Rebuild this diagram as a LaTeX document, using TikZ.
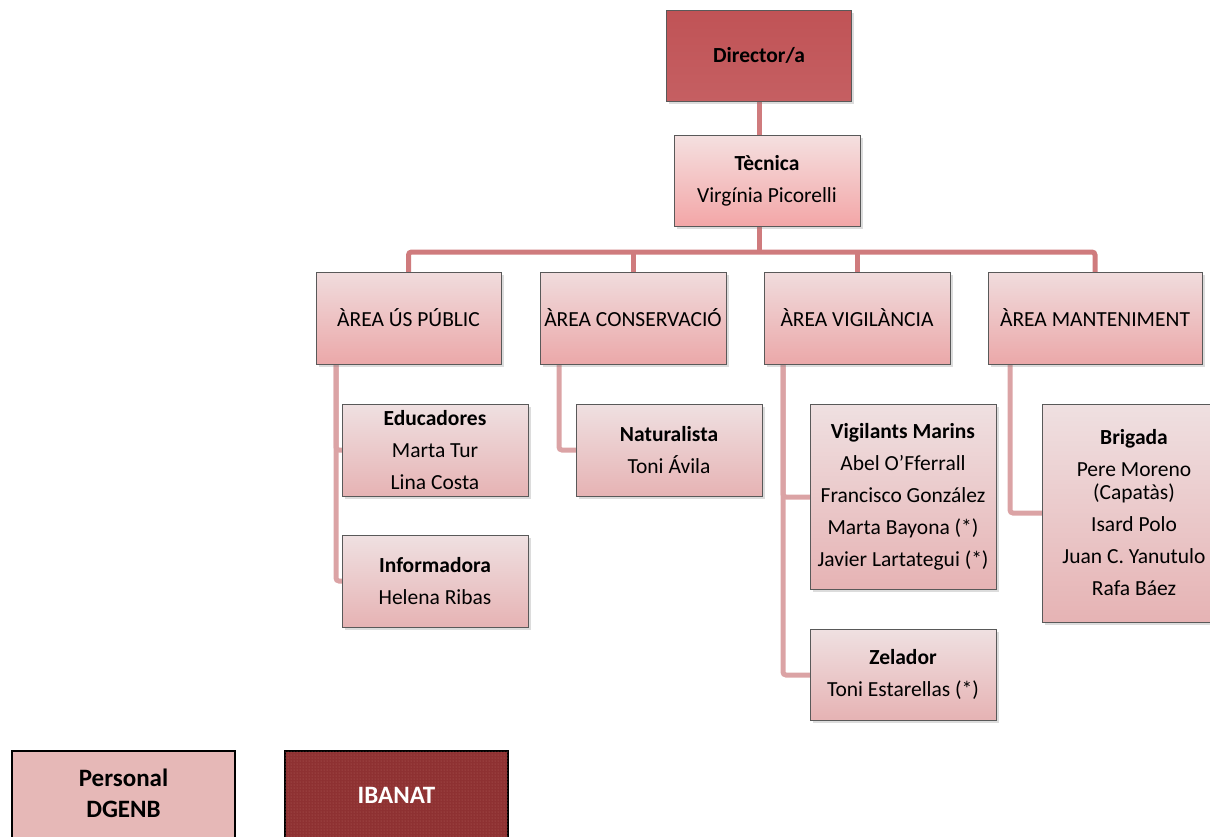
\documentclass[tikz,border=0pt]{standalone}
\usepackage{fontspec}
\setmainfont{Carlito}
\usetikzlibrary{shadows,patterns,calc}
\definecolor{connc}{HTML}{CF7B7D}
\definecolor{subconnc}{HTML}{DBA3A5}
\definecolor{dirtop}{HTML}{C05356}
\definecolor{dirbot}{HTML}{C55F62}
\definecolor{tectop}{HTML}{F4E0E0}
\definecolor{tecbot}{HTML}{F3A6A7}
\definecolor{areatop}{HTML}{F0DCDD}
\definecolor{areabot}{HTML}{EBA8A9}
\definecolor{subtop}{HTML}{EFE0E1}
\definecolor{subbot}{HTML}{E6B3B4}
\definecolor{dgenb}{HTML}{E6B8B7}
\definecolor{ibanat}{HTML}{8E3132}
\definecolor{ibanatdot}{HTML}{B4625F}
\newcommand\bxfont{\fontsize{21.5}{32}\selectfont}
\tikzset{
  basebox/.style={rectangle, draw=black!65, line width=0.8pt, inner sep=0pt, align=center,
    drop shadow={shadow xshift=2.5pt, shadow yshift=-2.5pt, opacity=0.28}},
  dirbox/.style={basebox, top color=dirtop, bottom color=dirbot, minimum width=185pt, minimum height=91pt,
    font=\fontsize{21.5}{24}\selectfont\bfseries},
  tecbox/.style={basebox, top color=tectop, bottom color=tecbot, minimum width=186pt, minimum height=91pt, font=\bxfont},
  areabox/.style={basebox, top color=areatop, bottom color=areabot, minimum height=92pt, font=\bxfont},
  subbox/.style={basebox, top color=subtop, bottom color=subbot, minimum width=186pt, font=\bxfont},
  conn/.style={draw=connc, line width=5pt, rounded corners=3pt},
  subconn/.style={draw=subconnc, line width=5pt, rounded corners=3pt},
  legbox/.style={rectangle, draw=black, line width=1.3pt, inner sep=0pt,
    minimum width=223pt, minimum height=100pt},
  legtext/.style={inner sep=0pt, align=center, font=\fontsize{25}{31}\selectfont\bfseries}
}
\begin{document}
\begin{tikzpicture}[x=1pt,y=-1pt]
\useasboundingbox (0,0) rectangle (1210,836);
% connectors (behind)
\coordinate (dirc) at (759,101);
\coordinate (bus) at (759,252);
\draw[conn] (dirc) -- (bus);
\draw[conn] (408.5,272) coordinate (a1n) -- ++(0,-20) -| (1095,272) coordinate (a4n);
\draw[conn] (633,272) coordinate (a2n) -- ++(0,-20);
\draw[conn] (857,272) coordinate (a3n) -- ++(0,-20);
% sub connectors
\draw[subconn] (336,364) coordinate (s1) |- (342,450) coordinate (e1w);
\draw[subconn] (s1) |- (342,581) coordinate (e2w);
\draw[subconn] (559,364) coordinate (s2) |- (576,450) coordinate (n1w);
\draw[subconn] (783,364) coordinate (s3) |- (810,497) coordinate (v1w);
\draw[subconn] (s3) |- (810,675) coordinate (v2w);
\draw[subconn] (1010,364) coordinate (s4) |- (1042,513) coordinate (b1w);
% boxes
\node[dirbox] (dir) at (759,55.5) {Director/a};
\node[tecbox] (tec) at (767,180.5) {\textbf{Tècnica}\\Virgínia Picorelli};
\node[areabox, minimum width=185pt] (a1) at (408.5,318) {ÀREA ÚS PÚBLIC};
\node[areabox, minimum width=186pt] (a2) at (633,318) {ÀREA CONSERVACIÓ};
\node[areabox, minimum width=186pt] (a3) at (857,318) {ÀREA VIGILÀNCIA};
\node[areabox, minimum width=214pt] (a4) at (1095,318) {ÀREA MANTENIMENT};
\node[subbox, minimum height=92pt] (e1) at (435,450) {\textbf{Educadores}\\Marta Tur\\Lina Costa};
\node[subbox, minimum height=92pt] (e2) at (435,581) {\textbf{Informadora}\\Helena Ribas};
\node[subbox, minimum height=92pt] (n1) at (669,450) {\textbf{Naturalista}\\Toni Ávila};
\node[subbox, minimum height=185pt] (v1) at (903,496.5) {\textbf{Vigilants Marins}\\Abel O’Fferrall\\Francisco González\\Marta Bayona (*)\\Javier Lartategui (*)};
\node[subbox, minimum height=91pt] (v2) at (903,674.5) {\textbf{Zelador}\\Toni Estarellas (*)};
\node[subbox, minimum width=184pt, minimum height=218pt, font=\fontsize{21.5}{23}\selectfont] (b1) at (1134,513)
  {\textbf{Brigada}\\[9pt]Pere Moreno\\(Capatàs)\\[9pt]Isard Polo\\[9pt]Juan C. Yanutulo\\[9pt]Rafa Báez};
% legend
\node[legbox, fill=dgenb] (l1) at (123.5,801) {};
\node[legtext] (l1t) at (123.5,793) {Personal\\DGENB};
\node[legbox, fill=ibanat, postaction={pattern=dots, pattern color=ibanatdot}] (l2) at (396.5,801) {};
\node[legtext, text=white] (l2t) at (396.5,795) {IBANAT};
\end{tikzpicture}
\end{document}
